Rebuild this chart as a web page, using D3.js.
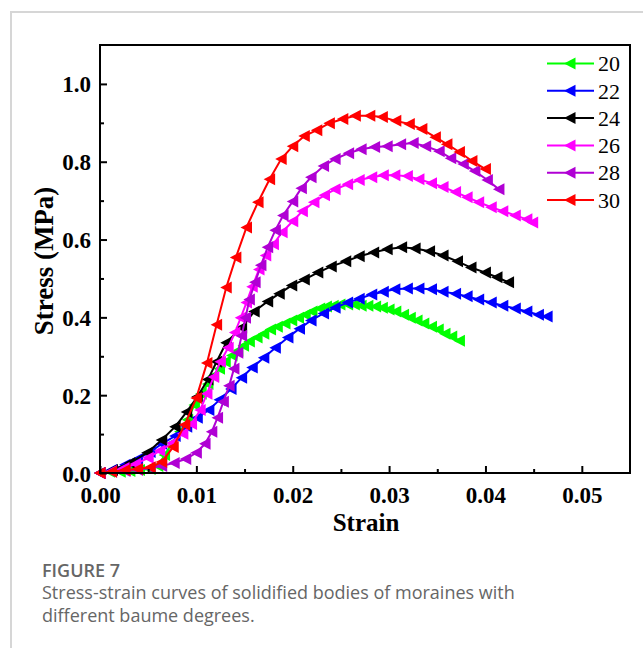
<!DOCTYPE html>
<html><head><meta charset="utf-8">
<script src="https://cdn.jsdelivr.net/npm/d3@7"></script>
<style>
html,body{margin:0;padding:0;background:#fff;}
svg{display:block;}
</style></head>
<body>
<svg id="chart" width="643" height="648"></svg>
<script>
// ---- Data (strain, stress MPa) ----
const seriesNames = ["20", "22", "24", "26", "28", "30"];
const seriesColors = ["#00ff00", "#0000ff", "#000000", "#ff00ff", "#b000d4", "#ff0000"];

const s20 = [[0,0],[.0010,.003],[.0021,.003],[.0031,.005],[.0041,.008],[.0052,.010],[.0060,.018],[.0067,.046],[.0075,.077],[.0083,.106],[.0091,.137],[.0098,.175],[.0105,.204],[.0112,.229],[.0118,.250],[.0124,.268],[.0130,.286],[.0137,.302],[.0143,.314],[.0149,.327],[.0155,.338],[.0163,.348],[.0170,.358],[.0177,.369],[.0184,.376],[.0192,.384],[.0199,.392],[.0206,.399],[.0213,.407],[.0220,.415],[.0228,.423],[.0235,.428],[.0242,.430],[.0249,.433],[.0257,.433],[.0264,.433],[.0271,.430],[.0278,.430],[.0286,.428],[.0293,.425],[.0300,.420],[.0307,.415],[.0315,.407],[.0322,.399],[.0329,.392],[.0336,.384],[.0344,.376],[.0351,.369],[.0358,.358],[.0365,.351],[.0373,.340]];
const s22 = [[0,0],[.0012,.008],[.0026,.021],[.0039,.036],[.0052,.054],[.0064,.075],[.0078,.095],[.0090,.119],[.0101,.142],[.0113,.162],[.0124,.188],[.0136,.216],[.0147,.245],[.0158,.271],[.0170,.296],[.0182,.322],[.0195,.348],[.0207,.371],[.0219,.392],[.0232,.410],[.0244,.425],[.0257,.438],[.0269,.448],[.0282,.459],[.0294,.466],[.0306,.472],[.0319,.474],[.0331,.474],[.0344,.472],[.0356,.466],[.0369,.461],[.0381,.454],[.0393,.446],[.0406,.438],[.0418,.430],[.0431,.423],[.0443,.415],[.0455,.407],[.0464,.402]];
const s24 = [[0,0],[.0013,.008],[.0031,.026],[.0049,.052],[.0064,.085],[.0078,.119],[.0090,.157],[.0101,.196],[.0112,.240],[.0121,.286],[.0131,.335],[.0147,.374],[.0160,.415],[.0174,.441],[.0186,.461],[.0199,.482],[.0212,.497],[.0226,.515],[.0240,.531],[.0255,.544],[.0269,.557],[.0284,.567],[.0298,.575],[.0313,.580],[.0327,.577],[.0342,.570],[.0356,.559],[.0371,.544],[.0385,.528],[.0400,.515],[.0412,.503],[.0424,.490]];
const s26 = [[0,0],[.0012,.005],[.0025,.013],[.0037,.023],[.0050,.039],[.0062,.057],[.0075,.077],[.0086,.101],[.0095,.126],[.0104,.162],[.0111,.204],[.0118,.247],[.0125,.286],[.0133,.322],[.0140,.361],[.0146,.399],[.0152,.438],[.0158,.479],[.0165,.523],[.0172,.559],[.0180,.588],[.0189,.619],[.0200,.647],[.0210,.673],[.0222,.696],[.0233,.714],[.0244,.729],[.0257,.742],[.0269,.753],[.0282,.760],[.0294,.765],[.0306,.765],[.0319,.763],[.0331,.755],[.0344,.745],[.0356,.735],[.0369,.722],[.0381,.709],[.0393,.696],[.0406,.683],[.0418,.673],[.0431,.662],[.0443,.652],[.0449,.644]];
const s28 = [[0,0],[.0012,.003],[.0026,.005],[.0039,.008],[.0052,.013],[.0064,.018],[.0077,.026],[.0089,.036],[.0100,.052],[.0109,.075],[.0116,.106],[.0122,.142],[.0128,.183],[.0134,.224],[.0139,.268],[.0143,.309],[.0147,.353],[.0151,.399],[.0155,.446],[.0161,.490],[.0167,.534],[.0174,.580],[.0182,.624],[.0190,.662],[.0200,.698],[.0209,.732],[.0219,.760],[.0232,.789],[.0244,.807],[.0258,.822],[.0271,.832],[.0285,.838],[.0298,.840],[.0312,.845],[.0325,.848],[.0338,.840],[.0352,.827],[.0364,.809],[.0377,.794],[.0389,.776],[.0402,.753],[.0414,.729]];
const s30 = [[0,0],[.0012,.003],[.0026,.008],[.0039,.010],[.0052,.015],[.0064,.028],[.0076,.067],[.0088,.124],[.0100,.193],[.0111,.283],[.0121,.381],[.0131,.477],[.0141,.554],[.0152,.631],[.0164,.696],[.0176,.755],[.0188,.807],[.0200,.840],[.0212,.866],[.0225,.881],[.0238,.899],[.0252,.910],[.0265,.918],[.0280,.918],[.0293,.915],[.0307,.905],[.0321,.897],[.0334,.884],[.0348,.863],[.0360,.845],[.0373,.825],[.0386,.802],[.0400,.781]];

const seriesData = [s20, s22, s24, s26, s28, s30];

const xTicks = [0, 0.01, 0.02, 0.03, 0.04, 0.05];
const xTickLabels = ["0.00", "0.01", "0.02", "0.03", "0.04", "0.05"];
const xMinorTicks = [0.005, 0.015, 0.025, 0.035, 0.045];
const yTicks = [0, 0.2, 0.4, 0.6, 0.8, 1.0];
const yTickLabels = ["0.0", "0.2", "0.4", "0.6", "0.8", "1.0"];
const yMinorTicks = [0.1, 0.3, 0.5, 0.7, 0.9];

const xLabel = "Strain";
const yLabel = "Stress (MPa)";
const figTitle = "FIGURE 7";
const captionLines = ["Stress-strain curves of solidified bodies of moraines with", "different baume degrees."];

// ---- Layout ----
const svg = d3.select("#chart");
const L = 100, R = 630, T = 45, B = 473;
const x = d3.scaleLinear().domain([0, 0.055]).range([L, R]);
const y = d3.scaleLinear().domain([0, 1.1]).range([B, T]);

// card border
svg.append("path").attr("d", `M11,648 L11,12 L643,12`).attr("fill", "none")
  .attr("stroke", "#d6d6d6").attr("stroke-width", 2);

const serif = "'Liberation Serif','Times New Roman',serif";

// clip
svg.append("clipPath").attr("id", "clip").append("rect")
  .attr("x", L - 7).attr("y", T).attr("width", R - L + 7).attr("height", B - T + 7);

// series
const line = d3.line().x(d => x(d[0])).y(d => y(d[1]));
const tri = "M-6,0 L5.5,-6 L5.5,6 Z";
const plot = svg.append("g").attr("clip-path", "url(#clip)");
seriesData.forEach((data, i) => {
  const g = plot.append("g");
  g.append("path").datum(data).attr("d", line).attr("fill", "none")
    .attr("stroke", seriesColors[i]).attr("stroke-width", 2);
  g.selectAll("path.m").data(data).enter().append("path").attr("class", "m")
    .attr("d", tri).attr("transform", d => `translate(${x(d[0])},${y(d[1])})`)
    .attr("fill", seriesColors[i]);
});

// axes (ticks inward)
const xAxisB = d3.axisBottom(x).tickValues(xTicks).tickSize(-7).tickFormat((d, i) => xTickLabels[i]);
const xAxisBm = d3.axisBottom(x).tickValues(xMinorTicks).tickSize(-4).tickFormat("");
const yAxisL = d3.axisLeft(y).tickValues(yTicks).tickSize(-7).tickFormat((d, i) => yTickLabels[i]);
const yAxisLm = d3.axisLeft(y).tickValues(yMinorTicks).tickSize(-4).tickFormat("");

function styleAxis(g) {
  g.select(".domain").remove();
  g.selectAll("line").attr("stroke", "#000").attr("stroke-width", 2);
  g.selectAll("text").attr("font-family", serif).attr("font-weight", "bold")
    .attr("font-size", 23).attr("fill", "#000");
}
svg.append("g").attr("transform", `translate(0,${B})`).call(xAxisB).call(styleAxis)
  .selectAll("text").attr("dy", "0").attr("y", 30);
svg.append("g").attr("transform", `translate(0,${B})`).call(xAxisBm).call(styleAxis);
svg.append("g").attr("transform", `translate(${L},0)`).call(yAxisL).call(styleAxis)
  .selectAll("text").attr("x", -9).attr("dy", "0.35em");
svg.append("g").attr("transform", `translate(${L},0)`).call(yAxisLm).call(styleAxis);

// frame
svg.append("rect").attr("x", L).attr("y", T).attr("width", R - L).attr("height", B - T)
  .attr("fill", "none").attr("stroke", "#000").attr("stroke-width", 2);

// axis labels
svg.append("text").attr("x", 366).attr("y", 531)
  .attr("text-anchor", "middle").attr("font-family", serif).attr("font-weight", "bold")
  .attr("font-size", 25).text(xLabel);
svg.append("text").attr("transform", `translate(53,261) rotate(-90)`)
  .attr("text-anchor", "middle").attr("font-family", serif).attr("font-weight", "bold")
  .attr("font-size", 27).text(yLabel);

// legend
const leg = svg.append("g");
seriesNames.forEach((name, i) => {
  const yy = 63.5 + i * 27.3;
  leg.append("line").attr("x1", 547).attr("x2", 594).attr("y1", yy).attr("y2", yy)
    .attr("stroke", seriesColors[i]).attr("stroke-width", 2);
  leg.append("path").attr("d", tri).attr("transform", `translate(570,${yy})`).attr("fill", seriesColors[i]);
  leg.append("text").attr("x", 598).attr("y", yy).attr("dy", "0.35em")
    .attr("font-family", serif).attr("font-size", 22).text(name);
});

// caption
const sans = "'Open Sans','Noto Sans',sans-serif";
svg.append("text").attr("x", 42).attr("y", 577).attr("font-family", sans).attr("font-weight", 600)
  .attr("font-size", 18).attr("fill", "#666").text(figTitle);
captionLines.forEach((t, i) => {
  svg.append("text").attr("x", 42).attr("y", 599 + i * 23).attr("font-family", sans)
    .attr("font-size", 18).attr("fill", "#666").text(t);
});
</script>
</body></html>
